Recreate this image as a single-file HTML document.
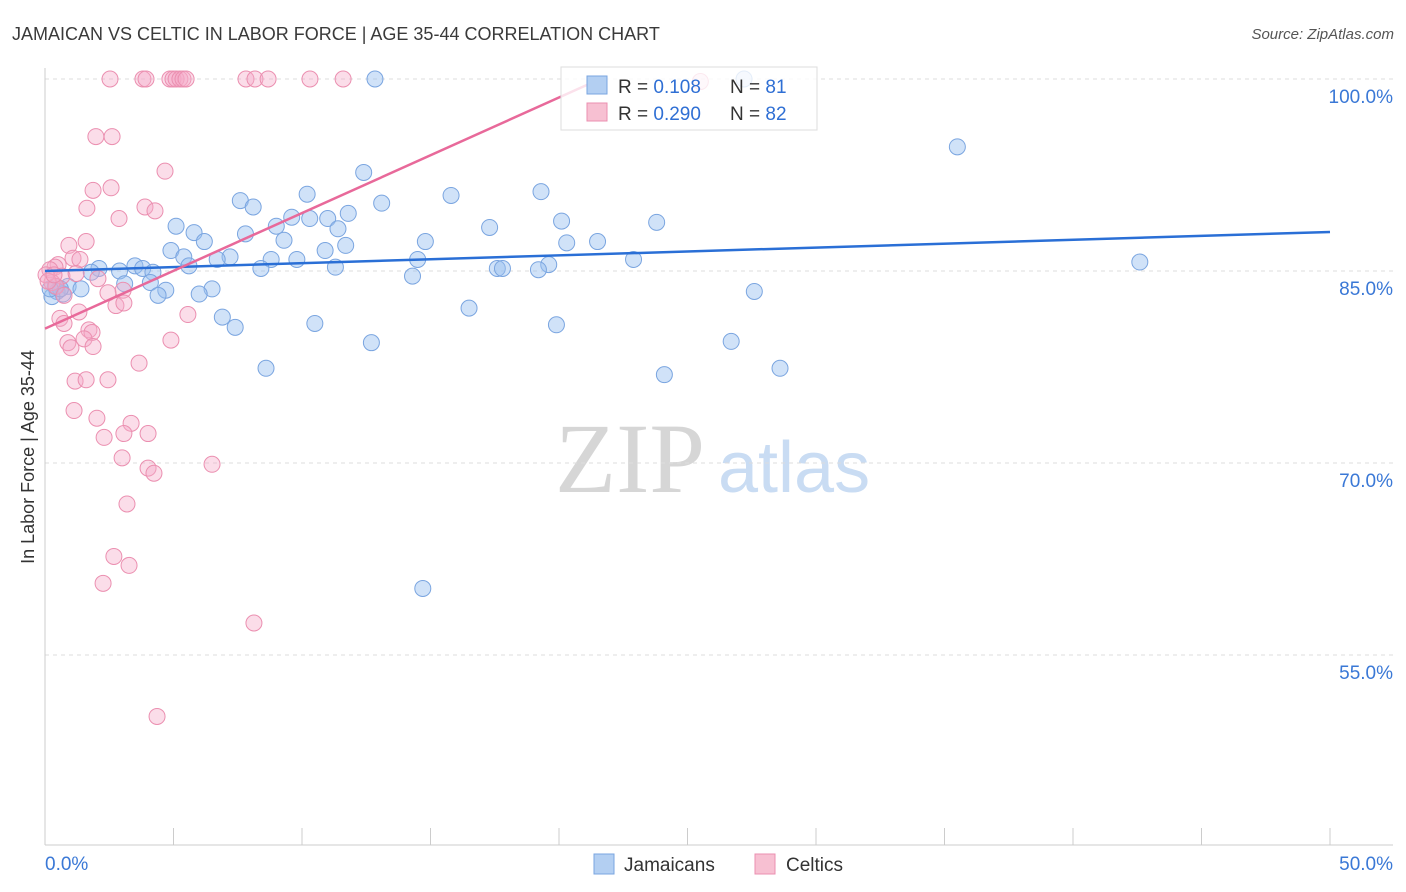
<!DOCTYPE html>
<html><head><meta charset="utf-8"><style>
body{margin:0;background:#fff;font-family:"Liberation Sans",sans-serif;}
svg{display:block}
</style></head><body>
<svg id="chart" width="1406" height="892">
<text x="12" y="40" font-size="18" fill="#3a3a3a">JAMAICAN VS CELTIC IN LABOR FORCE | AGE 35-44 CORRELATION CHART</text>
<text x="1394" y="39" font-size="15" fill="#555" text-anchor="end" font-style="italic">Source: ZipAtlas.com</text>
<text x="555" y="492" font-size="100" fill="#d6d6d6" font-family="Liberation Serif,serif">ZIP</text>
<text x="718" y="492" font-size="72" fill="#c9dcf3">atlas</text>
<g id="grid"></g><g id="axes"></g><g id="points"></g><g id="lines"></g>
<text transform="translate(34,457) rotate(-90)" font-size="18" fill="#333" text-anchor="middle">In Labor Force | Age 35-44</text>
<g>
<rect x="561" y="67" width="256" height="63" fill="rgba(255,255,255,0.8)" stroke="#ddd"/>
<rect x="587" y="76" width="20" height="18" fill="#b3cff2" stroke="#7aa5e0"/>
<rect x="587" y="103" width="20" height="18" fill="#f7c0d2" stroke="#eb8fb0"/>
<text x="618" y="93" font-size="19" fill="#333">R = <tspan fill="#2f6fd4">0.108</tspan></text>
<text x="730" y="93" font-size="19" fill="#333">N = <tspan fill="#2f6fd4">81</tspan></text>
<text x="618" y="120" font-size="19" fill="#333">R = <tspan fill="#2f6fd4">0.290</tspan></text>
<text x="730" y="120" font-size="19" fill="#333">N = <tspan fill="#2f6fd4">82</tspan></text>
</g>
<g><rect x="594" y="854" width="20" height="20" fill="#b3cff2" stroke="#7aa5e0"/><text x="624" y="871" font-size="19" fill="#333">Jamaicans</text></g>
<g><rect x="755" y="854" width="20" height="20" fill="#f7c0d2" stroke="#eb8fb0"/><text x="786" y="871" font-size="19" fill="#333">Celtics</text></g>
</svg>
<script>
const yTicks=[100,85,70,55];
const yTickLabels=["100.0%","85.0%","70.0%","55.0%"];
const xTickLabels=["0.0%","50.0%"];
const blueX=[12.84,27.2,35.5,12.4,19.3,10.2,15.8,7.6,8.1,13.1,11.8,9.6,11.0,10.3,20.1,23.8,5.1,9.0,17.3,5.8,11.4,7.8,9.3,6.2,14.8,20.3,21.5,11.7,4.9,10.9,5.4,7.2,6.7,8.8,9.8,14.5,22.9,42.6,5.6,19.6,3.5,3.8,8.4,11.3,17.6,17.8,19.2,2.1,2.9,4.2,1.8,14.3,4.1,3.1,0.9,1.4,0.47,6.5,4.7,27.6,6.0,4.4,0.7,0.27,16.5,6.9,10.5,19.9,7.4,26.7,12.7,8.6,28.6,24.1,14.7,0.4,0.6,0.2];
const blueY=[100,100,94.7,92.7,91.2,91.0,90.9,90.5,90.0,90.3,89.5,89.2,89.1,89.1,88.9,88.8,88.5,88.5,88.4,88.0,88.3,87.9,87.4,87.3,87.3,87.2,87.3,87.0,86.6,86.6,86.1,86.1,85.9,85.9,85.9,85.9,85.9,85.7,85.4,85.5,85.4,85.2,85.2,85.3,85.2,85.2,85.1,85.2,85.0,84.9,84.9,84.6,84.1,84.0,83.8,83.6,83.4,83.6,83.5,83.4,83.2,83.1,83.2,83.0,82.1,81.4,80.9,80.8,80.6,79.5,79.4,77.4,77.4,76.9,60.2,83.8,83.6,83.6];
const pinkX=[2.53,3.81,3.93,4.86,4.98,5.10,5.25,5.37,5.49,7.82,8.17,8.68,10.31,11.60,25.5,1.98,2.61,4.67,1.87,2.57,1.63,3.89,4.28,2.88,1.60,0.93,0.51,0.39,1.09,1.36,0.19,0.66,1.21,2.06,3.04,0.27,0.43,0.74,2.45,2.76,3.07,1.32,0.58,0.74,1.71,1.83,1.52,0.89,1.87,1.01,5.56,4.90,3.66,1.17,1.60,2.45,1.13,2.02,3.35,2.30,3.07,4.01,3.00,4.01,4.24,6.50,3.19,2.68,3.27,2.26,8.13,4.36,0.04,0.12,0.35];
const pinkY=[100,100,100,100,100,100,100,100,100,100,100,100,100,100,99.8,95.5,95.5,92.8,91.3,91.5,89.9,90.0,89.7,89.1,87.3,87.0,85.5,85.3,86.0,85.9,85.1,84.6,84.8,84.4,83.5,84.1,83.8,83.1,83.3,82.3,82.5,81.8,81.3,80.9,80.4,80.2,79.7,79.4,79.1,79.0,81.6,79.6,77.8,76.4,76.5,76.5,74.1,73.5,73.1,72.0,72.3,72.3,70.4,69.6,69.2,69.9,66.8,62.7,62.0,60.6,57.5,50.2,84.7,84.2,84.7];
const blueTrend=[85.0,88.05];
const pinkTrend=[80.5,100];
const NS='http://www.w3.org/2000/svg';
const xs=v=>45+v*25.7;
const ys=v=>79+(100-v)*12.8;
function mk(tag,attrs,parent){const e=document.createElementNS(NS,tag);for(const k in attrs)e.setAttribute(k,attrs[k]);parent.appendChild(e);return e;}
const grid=document.getElementById('grid'),axes=document.getElementById('axes'),pts=document.getElementById('points'),lines=document.getElementById('lines');
yTicks.forEach((t,i)=>{
 const l=mk('line',{x1:45,x2:1393,y1:ys(t),y2:ys(t),stroke:'#ddd','stroke-dasharray':'4,4'},grid);
 
 
 const tx=mk('text',{x:1393,y:ys(t)+24,'font-size':19,fill:'#3a78d6','text-anchor':'end'},axes);
 tx.textContent=yTickLabels[i];
 
 
});
mk('line',{x1:45,x2:45,y1:68,y2:845,stroke:'#ccc'},axes);
mk('line',{x1:45,x2:1393,y1:845,y2:845,stroke:'#ccc'},axes);
for(let i=0;i<=10;i++){const x=xs(i*5);const t=mk('line',{x1:x,x2:x,y1:828,y2:845,stroke:'#ccc'},axes);
 
 }
const xl0=mk('text',{x:45,y:870,'font-size':19,fill:'#3a78d6'},axes);xl0.textContent=xTickLabels[0];


const xl1=mk('text',{x:1393,y:870,'font-size':19,fill:'#3a78d6','text-anchor':'end'},axes);xl1.textContent=xTickLabels[1];


blueX.forEach((v,i)=>{const c=mk('circle',{cx:xs(v),cy:ys(blueY[i]),r:8,fill:'rgba(150,190,240,0.45)',stroke:'#7aa5e0','stroke-width':1},pts);
 
 });
pinkX.forEach((v,i)=>{const c=mk('circle',{cx:xs(v),cy:ys(pinkY[i]),r:8,fill:'rgba(245,170,200,0.4)',stroke:'#eb8fb0','stroke-width':1},pts);
 
 });
const bl=mk('line',{x1:xs(0),y1:ys(blueTrend[0]),x2:xs(50),y2:ys(blueTrend[1]),stroke:'#2a6fd6','stroke-width':2.5},lines);


const pl=mk('line',{x1:xs(0),y1:ys(pinkTrend[0]),x2:xs(21.6),y2:ys(pinkTrend[1]),stroke:'#e8699a','stroke-width':2.5},lines);


</script>
</body></html>
